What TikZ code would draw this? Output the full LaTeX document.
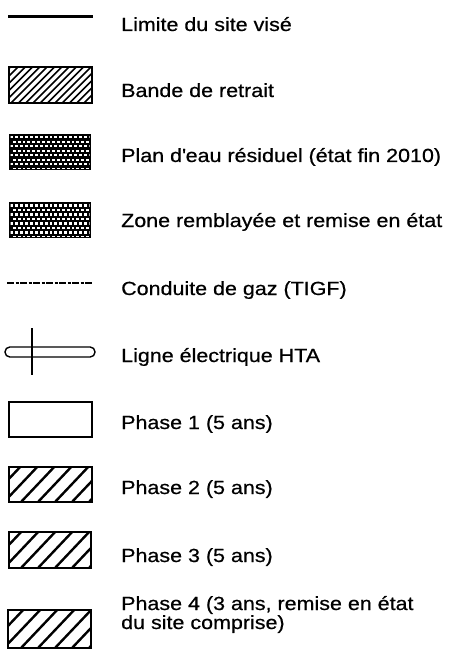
\documentclass[tikz,border=0pt]{standalone}
\usepackage{fontspec}
\setmainfont{Liberation Sans}[FakeStretch=1.13,FakeBold=0.6]
\begin{document}
\begin{tikzpicture}[x=1pt,y=-1pt,
  lbl/.style={anchor=base west,inner sep=0pt,font=\fontsize{19}{19}\selectfont,align=left},
  boxline/.style={line width=2.2pt},
  finehatch/.style={line width=1.6pt},
  coarsehatch/.style={line width=2.4pt}]
\useasboundingbox (0,0) rectangle (454,663);
% 1 Limite du site visé
\draw[line width=2.4pt] (8,16.5) -- (93,16.5);
\node[lbl] (t1) at (121,31) {Limite du site visé};
% 2 Bande de retrait
\begin{scope}
\clip (9,67) rectangle (92,103);
\foreach \i in {-40,-32.7,...,100} \draw[finehatch] (\i,103) -- ++(38,-38);
\end{scope}
\draw[line width=1.8pt] (9,67) rectangle (92,103);
\node[lbl] (t2) at (121,97) {Bande de retrait};
% 3 Plan d'eau
\fill[black] (9,134) rectangle (91,170);
\begin{scope}
\clip (10.5,135.5) rectangle (89.5,168.5);
\foreach \r in {0,...,7} \foreach \c in {0,...,16}
  \fill[white] ({10.3+\c*4.9+mod(\r,2)*2.45},{136.3+\r*4.5}) rectangle ++(2.9,2.2);
\end{scope}
\node[lbl] (t3) at (121,162) {Plan d\textquotesingle eau résiduel (état fin 2010)};
% 4 Zone remblayée
\fill[black] (9,202) rectangle (91,238);
\begin{scope}
\clip (10.5,203.5) rectangle (89.5,236.5);
\foreach \r in {0,...,7} \foreach \c in {0,...,16}
  \fill[white] ({10.3+\c*4.9+mod(\r,2)*2.45},{204.3+\r*4.5}) rectangle ++(2.9,2.2);
\end{scope}
\node[lbl] (t4) at (121,227) {Zone remblayée et remise en état};
% 5 Conduite de gaz
\draw[line width=1.3pt,dash pattern=on 7pt off 1.5pt on 3pt off 1.5pt] (7,283) -- (92,283);
\node[lbl] (t5) at (121,295) {Conduite de gaz (TIGF)};
% 6 Ligne HTA
\draw[line width=1.4pt,rounded corners=4.8pt] (5,347) rectangle (95,357);
\draw[line width=1.2pt] (32,328) -- (32,375);
\node[lbl] (t6) at (121,362) {Ligne électrique HTA};
% 7 Phase 1
\draw[boxline] (9,402) rectangle (92,437);
\node[lbl] (t7) at (121,429) {Phase 1 (5 ans)};
% 8 Phase 2
\begin{scope}
\clip (9,467) rectangle (92,502);
\foreach \i in {-30,-13,...,100} \draw[coarsehatch] (\i,502) -- ++(36,-38);
\end{scope}
\draw[boxline] (9,467) rectangle (92,502);
\node[lbl] (t8) at (121,494) {Phase 2 (5 ans)};
% 9 Phase 3
\begin{scope}
\clip (9,532) rectangle (91,568);
\foreach \i in {-30,-13,...,100} \draw[coarsehatch] (\i,568) -- ++(36,-38);
\end{scope}
\draw[boxline] (9,532) rectangle (91,568);
\node[lbl] (t9) at (121,562) {Phase 3 (5 ans)};
% 10 Phase 4
\begin{scope}
\clip (8,610) rectangle (91,648);
\foreach \i in {-30,-13,...,100} \draw[coarsehatch] (\i,648) -- ++(38,-40);
\end{scope}
\draw[boxline] (8,610) rectangle (91,648);
\node[lbl] (t10) at (121,629) {Phase 4 (3 ans, remise en état\\du site comprise)};
\end{tikzpicture}
\end{document}
